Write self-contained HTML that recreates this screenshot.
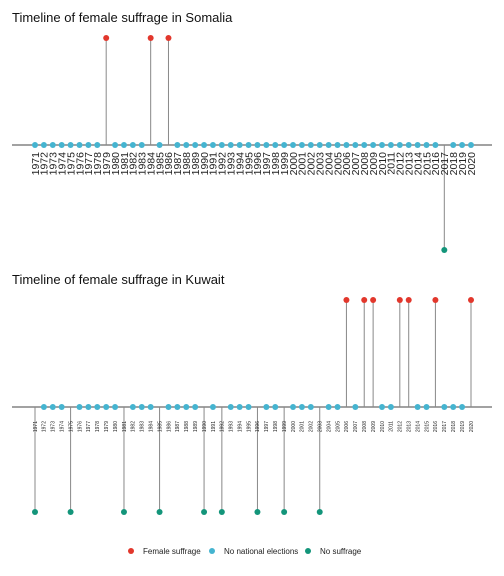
<!DOCTYPE html>
<html><head><meta charset="utf-8"><style>
html,body{margin:0;padding:0;background:#fff;}
svg{display:block;font-family:"Liberation Sans",sans-serif;}
</style></head><body>
<svg id="c" width="504" height="576"></svg>
<script>
const years = [];
for (let y = 1971; y <= 2020; y++) years.push(y);
const somaliaRed = [1979, 1984, 1986];
const somaliaGreen = [2017];
const kuwaitRed = [2006, 2008, 2009, 2012, 2013, 2016, 2020];
const kuwaitGreen = [1971, 1975, 1981, 1985, 1990, 1992, 1996, 1999, 2003];
const colors = {red:"#E2372C", blue:"#45B4D0", green:"#13957A"};
const NS = "http://www.w3.org/2000/svg";
const svg = document.getElementById('c');
function el(tag, attrs, parent){const e=document.createElementNS(NS,tag);for(const k in attrs)e.setAttribute(k,attrs[k]);(parent||svg).appendChild(e);return e;}
const xScale = y => 35 + (y - 1971) * (471 - 35) / 49;

function panel(title, titleY, axisY, redYs, greenYs, labelSize, labelY, name){
  const g = el('g', {});
  
  
  const t = el('text', {x:12, y:titleY, 'font-size':13, fill:'#111'}, g);
  t.textContent = title;
  
  
  const ax = el('line', {x1:12, x2:492, y1:axisY, y2:axisY, stroke:'#444', 'stroke-width':1}, g);
  
  
  years.forEach(yr => {
    const x = xScale(yr);
    let cy = axisY, col = colors.blue, st = 'no-elections';
    if (redYs.includes(yr)) { cy = axisY - 107; col = colors.red; st = 'female-suffrage'; }
    else if (greenYs.includes(yr)) { cy = axisY + 105; col = colors.green; st = 'no-suffrage'; }
    if (cy !== axisY) {
      const s = el('line', {x1:x, x2:x, y1:axisY, y2:cy, stroke:'#888', 'stroke-width':1}, g);
      
      
    }
    const c = el('circle', {cx:x, cy:cy, r:3, fill:col}, g);
    
    
    const lb = el('text', {x:x + labelSize*0.36, y:labelY, 'font-size':labelSize, fill:'#222', 'text-anchor':'end', transform:'rotate(-90 ' + (x + labelSize*0.36) + ' ' + labelY + ')'}, g);
    lb.textContent = yr;
    
    
  });
}
panel('Timeline of female suffrage in Somalia', 22, 145, somaliaRed, somaliaGreen, 10.5, 152, 'somalia');
panel('Timeline of female suffrage in Kuwait', 284, 407, kuwaitRed, kuwaitGreen, 5, 421, 'kuwait');

const legendLabels = ['Female suffrage', 'No national elections', 'No suffrage'];
const legendColors = [colors.red, colors.blue, colors.green];
const legendX = [131, 212, 308];
const lg = el('g', {});


legendLabels.forEach((l, i) => {
  const c = el('circle', {cx:legendX[i], cy:551, r:3, fill:legendColors[i]}, lg);
  
  
  const t = el('text', {x:legendX[i] + 12, y:554, 'font-size':8, fill:'#222'}, lg);
  t.textContent = l;
  
  
});
</script>
</body></html>
